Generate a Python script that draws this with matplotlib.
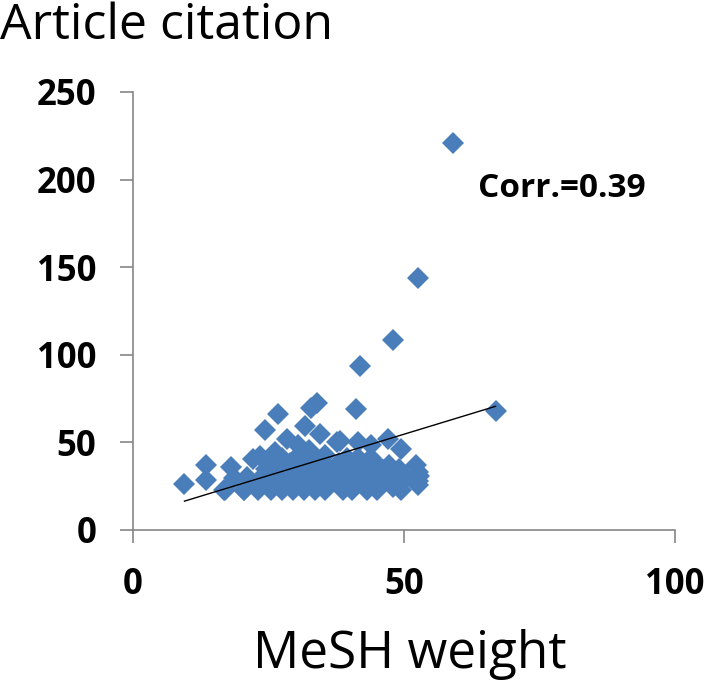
import matplotlib.pyplot as plt

# MeSH weight (x) vs article citation (y)
mesh_weight = [
    9.5, 13.5, 13.5, 16.8, 18.0, 18.6, 20.4, 22.2, 21.0, 23.0,
    24.3, 26.8, 33.9, 32.8, 31.7, 28.4, 34.5, 23.5, 26.2, 30.5,
    32.4, 35.4, 37.6, 38.2, 41.5, 44.0, 47.0, 49.5, 41.1, 41.8,
    48.0, 52.5, 59.1, 66.9,
    # bottom row
    17.0, 20.5, 23.0, 25.5, 27.5, 29.5, 31.5, 33.5, 35.5, 38.8,
    40.5, 43.1, 45.0, 47.9, 49.5, 52.5,
    # ~27 row
    22.0, 25.0, 28.0, 30.0, 33.0, 36.0, 38.0, 41.0, 44.0, 46.0,
    50.4, 52.5,
    # ~30 row
    24.0, 27.0, 29.0, 31.0, 34.0, 37.0, 39.5, 42.0, 45.0, 48.0,
    52.8,
    # ~35 row
    24.5, 28.0, 30.5, 33.0, 36.0, 40.6, 43.1, 46.0, 49.0, 52.5,
    # ~38 row
    26.0, 29.0, 32.0, 35.0, 38.0, 41.0, 44.5, 47.3, 52.2,
    # ~41 row
    27.5, 30.0, 33.5, 39.5, 41.5, 44.0,
]
citations = [
    26, 37, 28.5, 23, 36, 29.5, 23, 40.5, 30, 26,
    57, 66, 72.5, 69.5, 59.5, 52, 55, 42, 44.5, 48.3,
    45.4, 42.6, 50.2, 51, 50.2, 48.3, 52, 46.4, 69, 93.5,
    108.6, 144, 221, 68,
    23, 23, 23, 23, 23, 23, 23, 23, 23, 23,
    23, 23, 23, 24.7, 23, 25.6,
    27, 27, 27, 27, 27, 27, 27, 27, 27, 27,
    29.4, 28,
    31, 31, 31, 31, 31, 31, 31, 31, 31, 31,
    31,
    35, 35, 35, 35, 35, 35, 35, 35, 35, 33,
    38, 38, 38, 38, 38, 38, 38, 37, 37,
    41, 41, 41, 41, 41, 41,
]

# linear trendline (Excel), corr = 0.39
trend_slope = 0.943
trend_intercept = 7.5
corr_text = 'Corr.=0.39'

plt.rcParams['font.family'] = ['Open Sans', 'DejaVu Sans']

fig = plt.figure(figsize=(7.07, 6.88), dpi=100)
ax = fig.add_axes([0.1881, 0.2297, 0.7666, 0.6366])

ax.plot(mesh_weight, citations, linestyle='none', marker='D', markersize=11,
        color='#4A7EBB', markeredgewidth=0)

x0, x1 = min(mesh_weight), max(mesh_weight)
ax.plot([x0, x1], [trend_intercept + trend_slope * x0, trend_intercept + trend_slope * x1],
        color='black', linewidth=1.0)

ax.text(63.7, 195, corr_text, fontsize=24, fontweight='bold', va='center', ha='left')

ax.set_xlim(0, 100)
ax.set_ylim(0, 250)
ax.set_xticks([0, 50, 100])
ax.set_yticks([0, 50, 100, 150, 200, 250])

for side in ['top', 'right']:
    ax.spines[side].set_visible(False)
for side in ['left', 'bottom']:
    ax.spines[side].set_color('#868686')
    ax.spines[side].set_linewidth(1.2)

ax.tick_params(axis='both', length=9.5, width=1.2, color='#868686', labelsize=25, pad=17)
for lbl in ax.get_xticklabels() + ax.get_yticklabels():
    lbl.set_fontweight('bold')

fig.text(0.0, 0.998, 'Article citation', fontsize=36, ha='left', va='top')
fig.text(0.58, 0.048, 'MeSH weight', fontsize=37, ha='center', va='center')

plt.savefig('out.png', dpi=100)
